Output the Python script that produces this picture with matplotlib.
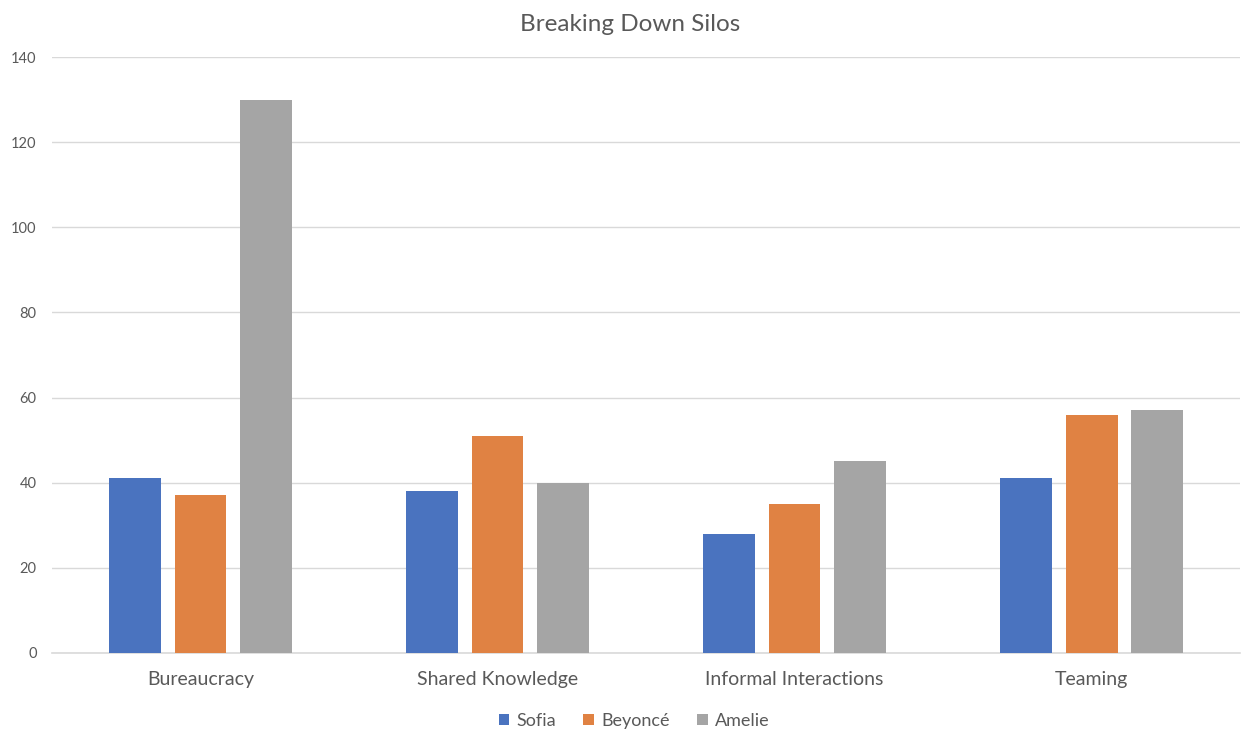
import numpy as np
import matplotlib.pyplot as plt

categories = ['Bureaucracy', 'Shared Knowledge', 'Informal Interactions', 'Teaming']
sofia = [41, 38, 28, 41]
beyonce = [37, 51, 35, 56]
amelie = [130, 40, 45, 57]

series = [('Sofia', sofia, '#4A73BF'),
          ('Beyoncé', beyonce, '#E08243'),
          ('Amelie', amelie, '#A5A5A5')]

plt.rcParams['font.family'] = ['Lato', 'DejaVu Sans']
text_color = '#595959'

fig = plt.figure(figsize=(12.44, 7.34), dpi=100)
ax = fig.add_axes([0.0418, 0.1104, 0.955, 0.8119])

x = np.arange(len(categories))
width = 0.175
step = 0.222
for i, (name, vals, color) in enumerate(series):
    ax.bar(x + (i - 1) * step, vals, width, color=color, label=name, zorder=3)

ax.set_xlim(-0.5, len(categories) - 0.5)
ax.set_ylim(0, 140)
ax.set_yticks(range(0, 141, 20))
ax.set_xticks(x)
ax.set_xticklabels(categories, fontsize=14, color=text_color)
ax.tick_params(axis='y', labelsize=10.5, colors=text_color, length=0, pad=11)
ax.tick_params(axis='x', length=0, pad=13)
ax.grid(axis='y', color='#D9D9D9', linewidth=1, zorder=0)
for side in ['top', 'right', 'left']:
    ax.spines[side].set_visible(False)
ax.spines['bottom'].set_color('#D9D9D9')
ax.spines['bottom'].set_linewidth(1.2)

ax.set_title('Breaking Down Silos', fontsize=17.5, color=text_color, pad=19, x=0.487)
ax.legend(loc='upper center', bbox_to_anchor=(0.49, -0.073), ncol=3, frameon=False,
          fontsize=13, labelcolor=text_color, handlelength=0.6, handleheight=0.6,
          handletextpad=0.4, columnspacing=1.5)

fig.savefig('out.png', dpi=100)
